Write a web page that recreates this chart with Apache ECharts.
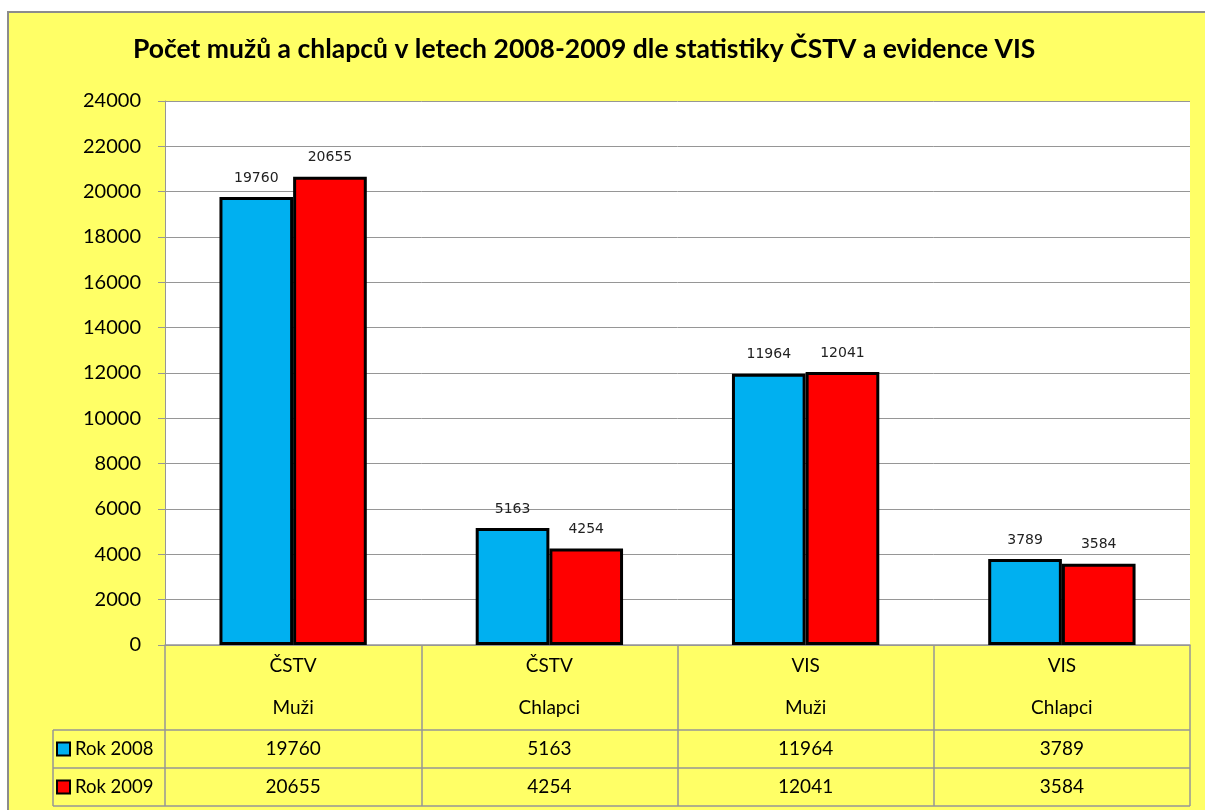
<!DOCTYPE html>
<html>
<head>
<meta charset="utf-8">
<script src="https://cdn.jsdelivr.net/npm/echarts@6/dist/echarts.min.js"></script>
<style>
html,body{margin:0;padding:0;background:#fff;}
#c{width:1205px;height:810px;}
</style>
</head>
<body>
<div id="c"></div>
<script>
var titleText = 'Počet mužů a chlapců v letech 2008-2009 dle statistiky ČSTV a evidence VIS';
var categories = ['ČSTV\nMuži', 'ČSTV\nChlapci', 'VIS\nMuži', 'VIS\nChlapci'];
var seriesNames = ['Rok 2008', 'Rok 2009'];
var rok2008 = [19760, 5163, 11964, 3789];
var rok2009 = [20655, 4254, 12041, 3584];
var yTicks = {min: 0, max: 24000, interval: 2000};

var FONT = 'Lato';
var gridLine = '#969696';
var L = 165, R = 1190, T = 101, B = 645;
var row1 = 730, row2 = 768, row3 = 806, legendLeft = 53;

var chart = echarts.init(document.getElementById('c'));
var barStyle = function(color){
  return {color: color, borderColor: '#000', borderWidth: 3};
};
var valueLabel = {show: true, position: 'top', distance: 12, fontFamily: 'DejaVu Sans', fontSize: 14, color: '#222'};
var option = {
  backgroundColor: 'transparent',
  animation: false,
  title: {
    text: titleText, left: 128, top: 31,
    textStyle: {fontFamily: FONT, fontWeight: 'bold', fontSize: 26.5, color: '#000'}
  },
  legend: {
    orient: 'vertical', left: 56, top: 738, itemGap: 16, padding: [0, 0, 0, 0],
    itemWidth: 13, itemHeight: 13, icon: 'rect', selectedMode: false,
    textStyle: {fontFamily: FONT, fontSize: 18.5, color: '#000', lineHeight: 22},
    data: seriesNames
  },
  grid: {left: L, right: 1205 - R, top: T, bottom: 810 - B, backgroundColor: '#fff', show: true, borderWidth: 0},
  xAxis: [{
    type: 'category', data: categories,
    axisLine: {show: true, lineStyle: {color: gridLine, width: 1.5}},
    axisTick: {show: true, length: row3 - B, interval: 0, lineStyle: {color: gridLine, width: 1.5}},
    axisLabel: {fontFamily: FONT, fontSize: 19, color: '#000', lineHeight: 42, margin: 0, interval: 0}
  }, {
    type: 'category', data: categories, position: 'bottom', offset: row1 - B,
    axisLine: {show: false}, axisTick: {show: false},
    axisLabel: {fontFamily: FONT, fontSize: 19, color: '#000', lineHeight: 38, margin: 0, interval: 0,
      formatter: function(v, i){ return String(rok2008[i]); }}
  }, {
    type: 'category', data: categories, position: 'bottom', offset: row2 - B,
    axisLine: {show: false}, axisTick: {show: false},
    axisLabel: {fontFamily: FONT, fontSize: 19, color: '#000', lineHeight: 38, margin: 0, interval: 0,
      formatter: function(v, i){ return String(rok2009[i]); }}
  }],
  yAxis: {
    type: 'value', min: yTicks.min, max: yTicks.max, interval: yTicks.interval,
    axisLine: {show: true, lineStyle: {color: gridLine}},
    axisTick: {show: true, length: 7, lineStyle: {color: gridLine}},
    axisLabel: {fontFamily: FONT, fontSize: 20, color: '#000', margin: 24,
      formatter: function(v){ return String(v); }},
    splitLine: {lineStyle: {color: gridLine, width: 1}}
  },
  series: [{
    name: seriesNames[0], type: 'bar', data: rok2008, barGap: '0%', barCategoryGap: '42.5%',
    itemStyle: barStyle('#00B0F0'), label: valueLabel
  }, {
    name: seriesNames[1], type: 'bar', data: rok2009, barGap: '0%', barCategoryGap: '42.5%',
    itemStyle: barStyle('#FF0000'), label: valueLabel
  }],
  graphic: [
    {type: 'rect', z: -10, silent: true, shape: {x: 8, y: 12, width: 1300, height: 900},
      style: {fill: '#FFFF66', stroke: '#8c8c8c', lineWidth: 2}},
    {type: 'line', z: 5, silent: true, shape: {x1: legendLeft, y1: row1, x2: R, y2: row1}, style: {stroke: gridLine, lineWidth: 1.5}},
    {type: 'line', z: 5, silent: true, shape: {x1: legendLeft, y1: row2, x2: R, y2: row2}, style: {stroke: gridLine, lineWidth: 1.5}},
    {type: 'line', z: 5, silent: true, shape: {x1: legendLeft, y1: row3, x2: R, y2: row3}, style: {stroke: gridLine, lineWidth: 1.5}},
    {type: 'line', z: 5, silent: true, shape: {x1: legendLeft, y1: row1, x2: legendLeft, y2: row3}, style: {stroke: gridLine, lineWidth: 1.5}}
  ]
};
chart.setOption(option);
</script>
</body>
</html>
